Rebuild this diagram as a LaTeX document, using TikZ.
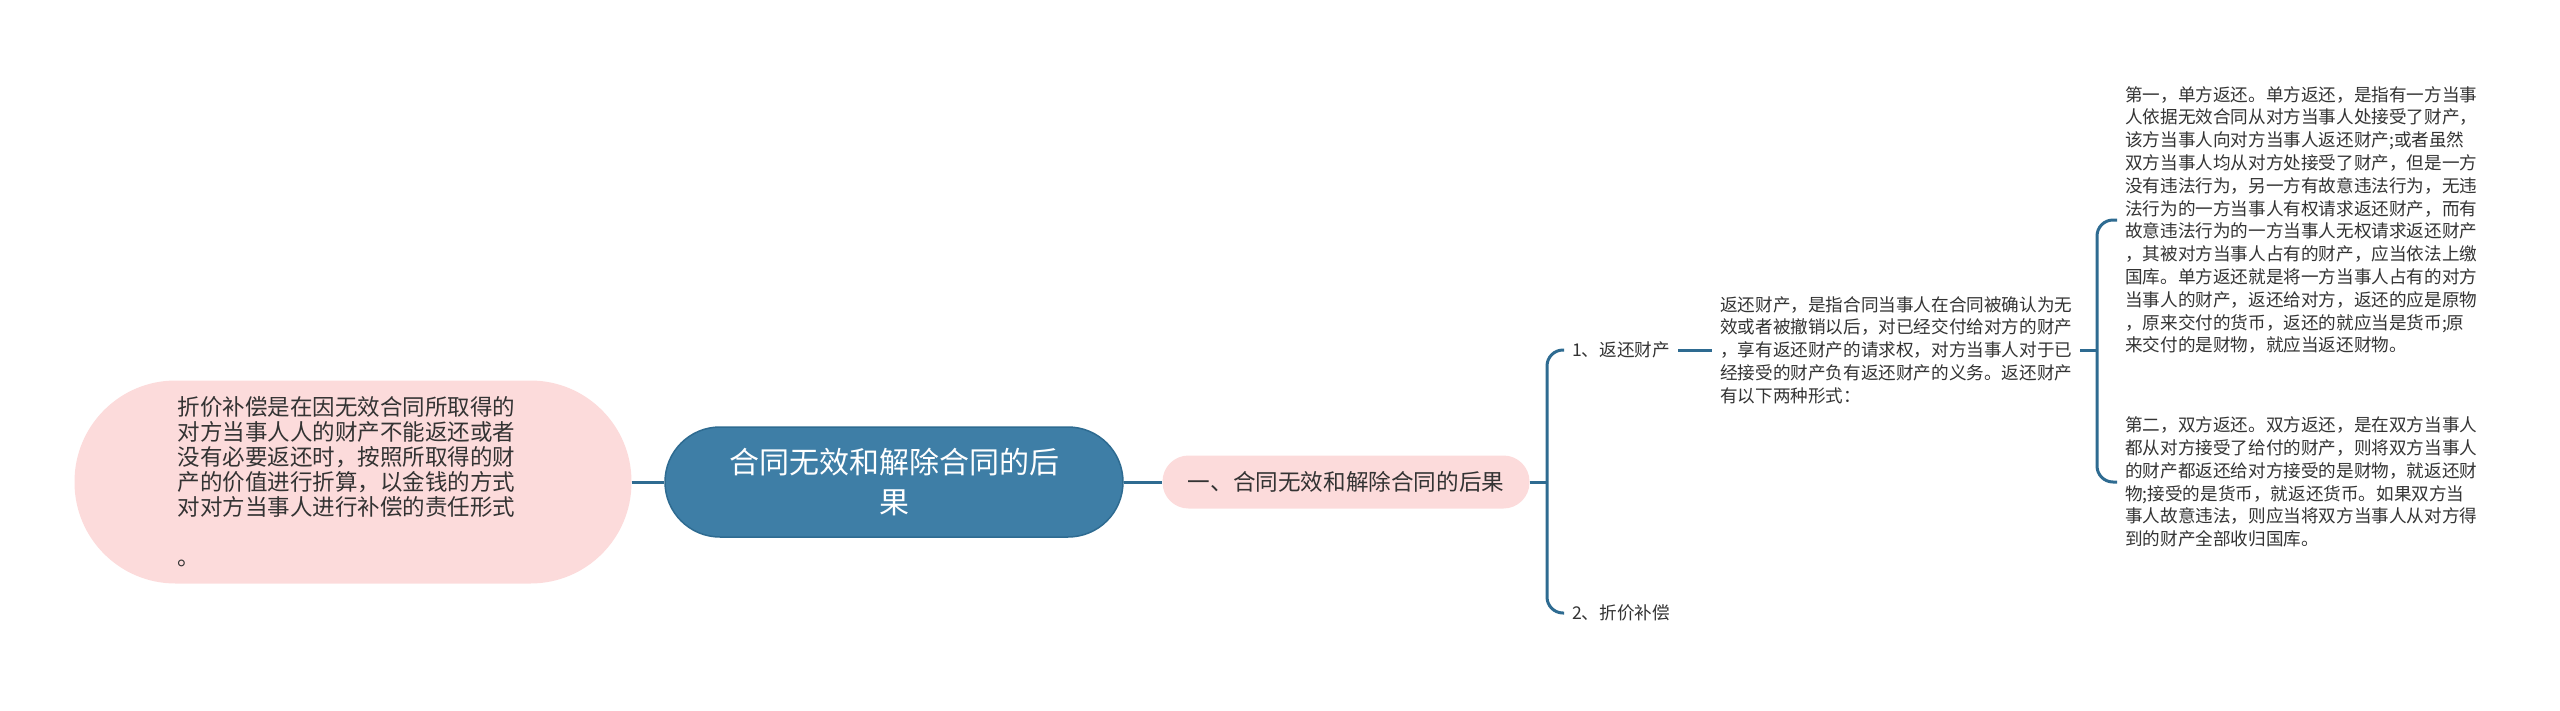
\documentclass[tikz,border=0pt]{standalone}
\usepackage{fontspec}
\setmainfont{Noto Sans CJK SC}
\definecolor{mapblue}{HTML}{3E7EA6}
\definecolor{linkblue}{HTML}{2E6B91}
\definecolor{mappink}{HTML}{FCDBDB}
\definecolor{ink}{HTML}{333333}
\begin{document}
\begin{tikzpicture}[x=1pt,y=-1pt,
  link/.style={draw=linkblue,line width=3pt},
  pill/.style={fill=mappink,text=ink,inner sep=0pt},
  leaf/.style={text=ink,inner xsep=8pt,inner ysep=0pt,align=left,anchor=west,font=\fontsize{17.6}{22.8}\selectfont}]
\useasboundingbox (0,0) rectangle (2560,710);
% Main topic and first level
\node[fill=mapblue,draw=linkblue,line width=1.5pt,text=white,rounded corners=55pt,minimum width=458pt,minimum height=110pt,align=center,font=\fontsize{30}{40}\selectfont] (root) at (894,482) {合同无效和解除合同的后\\果};
\node[pill,rounded corners=101pt,minimum width=557pt,minimum height=203pt,text width=351pt,align=left,font=\fontsize{22.5}{24.8}\selectfont] (comp) at (353,482) {折价补偿是在因无效合同所取得的\\对方当事人人的财产不能返还或者\\没有必要返还时，按照所取得的财\\产的价值进行折算，以金钱的方式\\对对方当事人进行补偿的责任形式\\[26pt]。};
\node[pill,rounded corners=26pt,minimum width=367pt,minimum height=53pt,font=\fontsize{22.6}{26}\selectfont] (sub) at (1346,482) {一、合同无效和解除合同的后果};
% Branches
\node[leaf] (ret) at (1564,350) {1、返还财产};
\node[leaf] (pay) at (1564,613) {2、折价补偿};
\node[leaf] (retdef) at (1712,350) {返还财产，是指合同当事人在合同被确认为无\\效或者被撤销以后，对已经交付给对方的财产\\，享有返还财产的请求权，对方当事人对于已\\经接受的财产负有返还财产的义务。返还财产\\有以下两种形式：};
\node[leaf] (one) at (2117,220) {第一，单方返还。单方返还，是指有一方当事\\人依据无效合同从对方当事人处接受了财产，\\该方当事人向对方当事人返还财产;或者虽然\\双方当事人均从对方处接受了财产，但是一方\\没有违法行为，另一方有故意违法行为，无违\\法行为的一方当事人有权请求返还财产，而有\\故意违法行为的一方当事人无权请求返还财产\\，其被对方当事人占有的财产，应当依法上缴\\国库。单方返还就是将一方当事人占有的对方\\当事人的财产，返还给对方，返还的应是原物\\，原来交付的货币，返还的就应当是货币;原\\来交付的是财物，就应当返还财物。};
\node[leaf] (two) at (2117,482) {第二，双方返还。双方返还，是在双方当事人\\都从对方接受了给付的财产，则将双方当事人\\的财产都返还给对方接受的是财物，就返还财\\物;接受的是货币，就返还货币。如果双方当\\事人故意违法，则应当将双方当事人从对方得\\到的财产全部收归国库。};
% Connectors
\coordinate (b1) at (1547,482);
\coordinate (b2) at (2097,350);
\draw[link] (comp.east) -- (root.west);
\draw[link] (root.east) -- (sub.west);
\draw[link] (sub.east) -- (b1);
\draw[link,rounded corners=16pt] (ret.west) -| (b1) |- (pay.west);
\draw[link] (ret.east) -- (retdef.west);
\draw[link] (retdef.east) -- (b2);
\draw[link,rounded corners=16pt] (one.west) -| (b2) |- (two.west);
\end{tikzpicture}
\end{document}
